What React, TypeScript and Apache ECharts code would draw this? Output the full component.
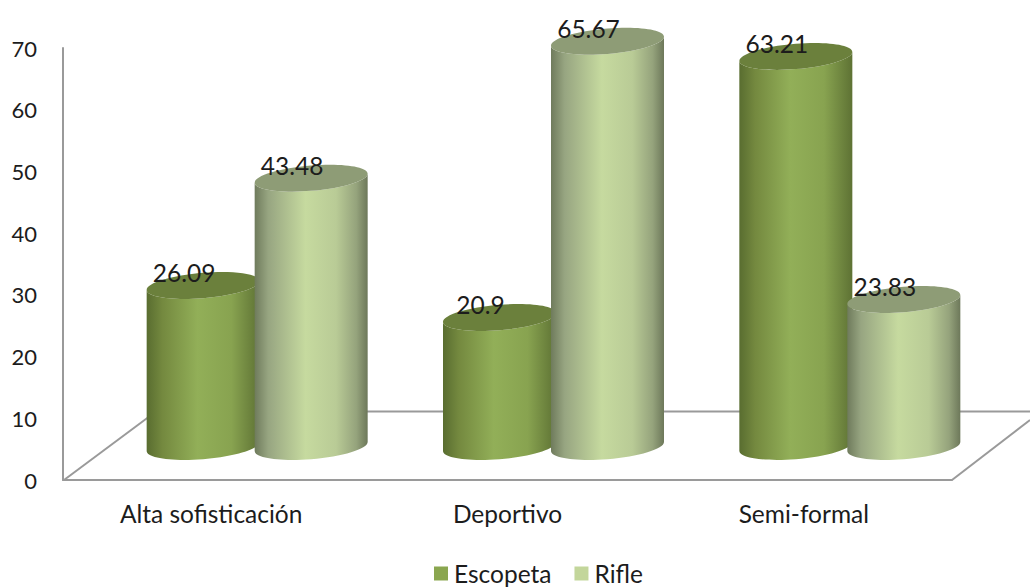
import React, { useEffect, useRef } from "react";
import * as echarts from "echarts";

const categories = ["Alta sofisticación", "Deportivo", "Semi-formal"];
const escopeta = [26.09, 20.9, 63.21];
const rifle = [43.48, 65.67, 23.83];

const FONT = "Lato, Carlito, sans-serif";
const TEXT = "#1c1c1c";
const AXIS = "#9a9a9a";

const RX = 56.5;
const RY = 12.7;
const SKEW = 4.5;
const KAPPA = 0.5523;
const DEPTH_Y = -33.5;

function cylinder(dx: number, stops: [number, string][], topColor: string) {
  return (_params: any, api: any) => {
    const value = api.value(1);
    const top = api.coord([api.value(0), value]);
    const base = api.coord([api.value(0), 0]);
    const cx = top[0] + dx;
    const ty = top[1] + DEPTH_Y;
    const by = base[1] + DEPTH_Y;
    const p = (y: number, a: number, b: number) => `${cx + a * RX} ${y + b * RY - a * SKEW}`;
    const K = KAPPA;
    const lowerLR = (y: number) =>
      `C ${p(y, -1, K)} ${p(y, -K, 1)} ${p(y, 0, 1)} C ${p(y, K, 1)} ${p(y, 1, K)} ${p(y, 1, 0)}`;
    const lowerRL = (y: number) =>
      `C ${p(y, 1, K)} ${p(y, K, 1)} ${p(y, 0, 1)} C ${p(y, -K, 1)} ${p(y, -1, K)} ${p(y, -1, 0)}`;
    const upperRL = (y: number) =>
      `C ${p(y, 1, -K)} ${p(y, K, -1)} ${p(y, 0, -1)} C ${p(y, -K, -1)} ${p(y, -1, -K)} ${p(y, -1, 0)}`;
    const body = `M ${p(ty, -1, 0)} L ${p(by, -1, 0)} ${lowerLR(by)} L ${p(ty, 1, 0)} ${lowerRL(ty)} Z`;
    const cap = `M ${p(ty, -1, 0)} ${lowerLR(ty)} ${upperRL(ty)} Z`;
    return {
      type: "group",
      children: [
        {
          type: "path",
          shape: { pathData: body },
          style: {
            fill: {
              type: "linear",
              x: 0,
              y: 0,
              x2: 1,
              y2: 0,
              colorStops: stops.map(([offset, color]) => ({ offset, color })),
            },
          },
        },
        { type: "path", shape: { pathData: cap }, style: { fill: topColor } },
        {
          type: "text",
          style: {
            text: String(value),
            x: cx - 19,
            y: ty - 13,
            fill: TEXT,
            fontSize: 24.5,
            fontFamily: FONT,
            align: "center",
            verticalAlign: "middle",
          },
        },
      ],
    };
  };
}

export default function App() {
  const ref = useRef<HTMLDivElement>(null);
  useEffect(() => {
    document.body.style.margin = "0";
    const chart = echarts.init(ref.current!, undefined, { renderer: "svg" });
    chart.setOption({
      animation: false,
      backgroundColor: "#ffffff",
      grid: { left: 63, right: 78, top: 48, bottom: 107, containLabel: false },
      legend: {
        left: 429,
        top: 556,
        data: ["Escopeta", "Rifle"],
        icon: "rect",
        itemWidth: 14,
        itemHeight: 14,
        itemGap: 23,
        textStyle: { fontFamily: FONT, fontSize: 24.5, color: TEXT, padding: [0, 0, 0, 1] },
      },
      xAxis: {
        type: "category",
        data: categories,
        axisLine: { lineStyle: { color: AXIS, width: 2 } },
        axisTick: { show: false },
        axisLabel: { fontFamily: FONT, fontSize: 24.5, color: TEXT, margin: 21 },
      },
      yAxis: {
        type: "value",
        min: 0,
        max: 70,
        interval: 10,
        splitLine: { show: false },
        axisTick: { show: false },
        axisLine: { show: true, lineStyle: { color: AXIS, width: 2 } },
        axisLabel: { fontFamily: FONT, fontSize: 22, color: TEXT, margin: 26 },
      },
      graphic: [
        { type: "line", z: 0, shape: { x1: 64, y1: 480, x2: 156, y2: 411.5 }, style: { stroke: AXIS, lineWidth: 2 } },
        { type: "line", z: 0, shape: { x1: 156, y1: 411.5, x2: 1030, y2: 411.5 }, style: { stroke: AXIS, lineWidth: 2 } },
        { type: "line", z: 0, shape: { x1: 952, y1: 480, x2: 1030, y2: 420 }, style: { stroke: AXIS, lineWidth: 2 } },
      ],
      series: [
        {
          name: "Escopeta",
          type: "custom",
          z: 5,
          clip: false,
          itemStyle: { color: "#8aa64f" },
          encode: { x: 0, y: 1 },
          data: escopeta.map((v, i) => [i, v]),
          renderItem: cylinder(
            -8,
            [
              [0, "#596d30"],
              [0.14, "#74893f"],
              [0.45, "#92af58"],
              [0.75, "#88a350"],
              [1, "#5e7234"],
            ],
            "#6b803c"
          ),
        },
        {
          name: "Rifle",
          type: "custom",
          z: 6,
          clip: false,
          itemStyle: { color: "#c3d69b" },
          encode: { x: 0, y: 1 },
          data: rifle.map((v, i) => [i, v]),
          renderItem: cylinder(
            100,
            [
              [0, "#6f7b5c"],
              [0.12, "#97a581"],
              [0.45, "#c6da9f"],
              [0.72, "#b9cb96"],
              [0.9, "#95a37c"],
              [1, "#6d785a"],
            ],
            "#8e9c76"
          ),
        },
      ],
    });
    return () => chart.dispose();
  }, []);
  return <div ref={ref} style={{ width: 1030, height: 587 }} />;
}
